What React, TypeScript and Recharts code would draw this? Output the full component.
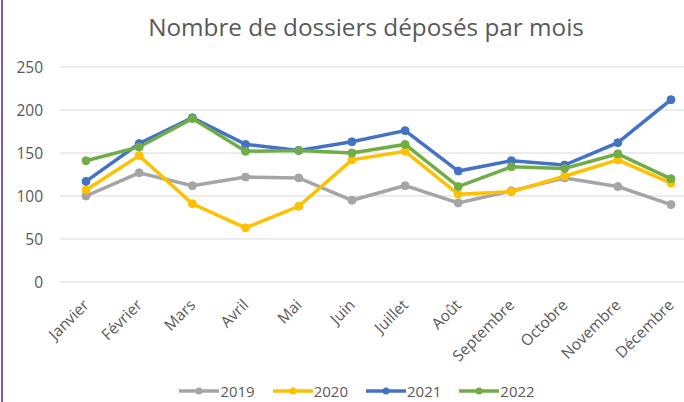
import React from "react";
import { LineChart, Line, XAxis, YAxis, CartesianGrid, Legend } from "recharts";

const months = [
  "Janvier", "Février", "Mars", "Avril", "Mai", "Juin",
  "Juillet", "Août", "Septembre", "Octobre", "Novembre", "Décembre",
];
const v2019 = [100, 127, 112, 122, 121, 95, 112, 92, 106, 121, 111, 90];
const v2020 = [107, 147, 91, 63, 88, 142, 152, 102, 105, 123, 142, 115];
const v2021 = [117, 161, 191, 160, 153, 163, 176, 129, 141, 136, 162, 212];
const v2022 = [141, 157, 190, 152, 153, 150, 160, 111, 134, 132, 149, 120];
const yTicks = [0, 50, 100, 150, 200, 250];

const series = [
  { key: "2019", color: "#A5A5A5" },
  { key: "2020", color: "#FFC000" },
  { key: "2021", color: "#4472C4" },
  { key: "2022", color: "#70AD47" },
];

const data = months.map((m, i) => ({
  month: m,
  "2019": v2019[i],
  "2020": v2020[i],
  "2021": v2021[i],
  "2022": v2022[i],
}));

const FONT = "'Open Sans', 'Noto Sans', sans-serif";
const TEXT = "#595959";

function MonthTick(props: any) {
  const { x, y, payload } = props;
  return (
    <g transform={`translate(${x + 4},${y + 24}) rotate(-45)`}>
      <text x={0} y={0} textAnchor="end" fill={TEXT} fontSize={15.5} fontFamily={FONT}>
        {payload.value}
      </text>
    </g>
  );
}

function LegendBox() {
  return (
    <div
      style={{
        height: 24,
        boxSizing: "border-box",
        paddingTop: 4,
        paddingLeft: 30,
        display: "flex",
        justifyContent: "center",
        gap: 18,
        fontFamily: FONT,
        fontSize: 15,
        lineHeight: "18px",
        color: TEXT,
      }}
    >
      {series.map((s) => (
        <div key={s.key} style={{ display: "flex", alignItems: "center", height: 18 }}>
          <svg width={40} height={12}>
            <line x1={0} y1={6} x2={40} y2={6} stroke={s.color} strokeWidth={3.5} />
            <circle cx={20} cy={6} r={3.5} fill={s.color} />
          </svg>
          <span style={{ marginLeft: 1 }}>{s.key}</span>
        </div>
      ))}
    </div>
  );
}

export default function App() {
  return (
    <div style={{ position: "absolute", left: 0, top: 0, width: 684, height: 402, background: "#fff" }}>
      <div style={{ position: "absolute", left: 1, top: 0, width: 2, height: 402, background: "#8C52C8" }} />
      <div
        style={{
          position: "absolute",
          top: 10,
          left: 0,
          width: 732,
          textAlign: "center",
          fontFamily: FONT,
          fontSize: 24.3,
          color: TEXT,
        }}
      >
        Nombre de dossiers déposés par mois
      </div>
      <LineChart width={684} height={402} data={data} margin={{ top: 67, right: 0, bottom: 0, left: 0 }}>
        <CartesianGrid vertical={false} stroke="#D9D9D9" strokeWidth={1} />
        <XAxis
          dataKey="month"
          axisLine={false}
          tickLine={false}
          tickSize={0}
          tickMargin={0}
          height={96}
          interval={0}
          padding={{ left: 26, right: 13 }}
          tick={<MonthTick />}
        />
        <YAxis
          domain={[0, 250]}
          ticks={yTicks}
          width={60}
          axisLine={false}
          tickLine={false}
          tickMargin={11}
          tick={{ fill: TEXT, fontSize: 15.5, fontFamily: FONT }}
        />
        <Legend verticalAlign="bottom" content={() => <LegendBox />} />
        {series.map((s) => (
          <Line
            key={s.key}
            dataKey={s.key}
            stroke={s.color}
            strokeWidth={3.5}
            dot={{ r: 4, fill: s.color, stroke: s.color, strokeWidth: 1 }}
            isAnimationActive={false}
          />
        ))}
      </LineChart>
    </div>
  );
}
